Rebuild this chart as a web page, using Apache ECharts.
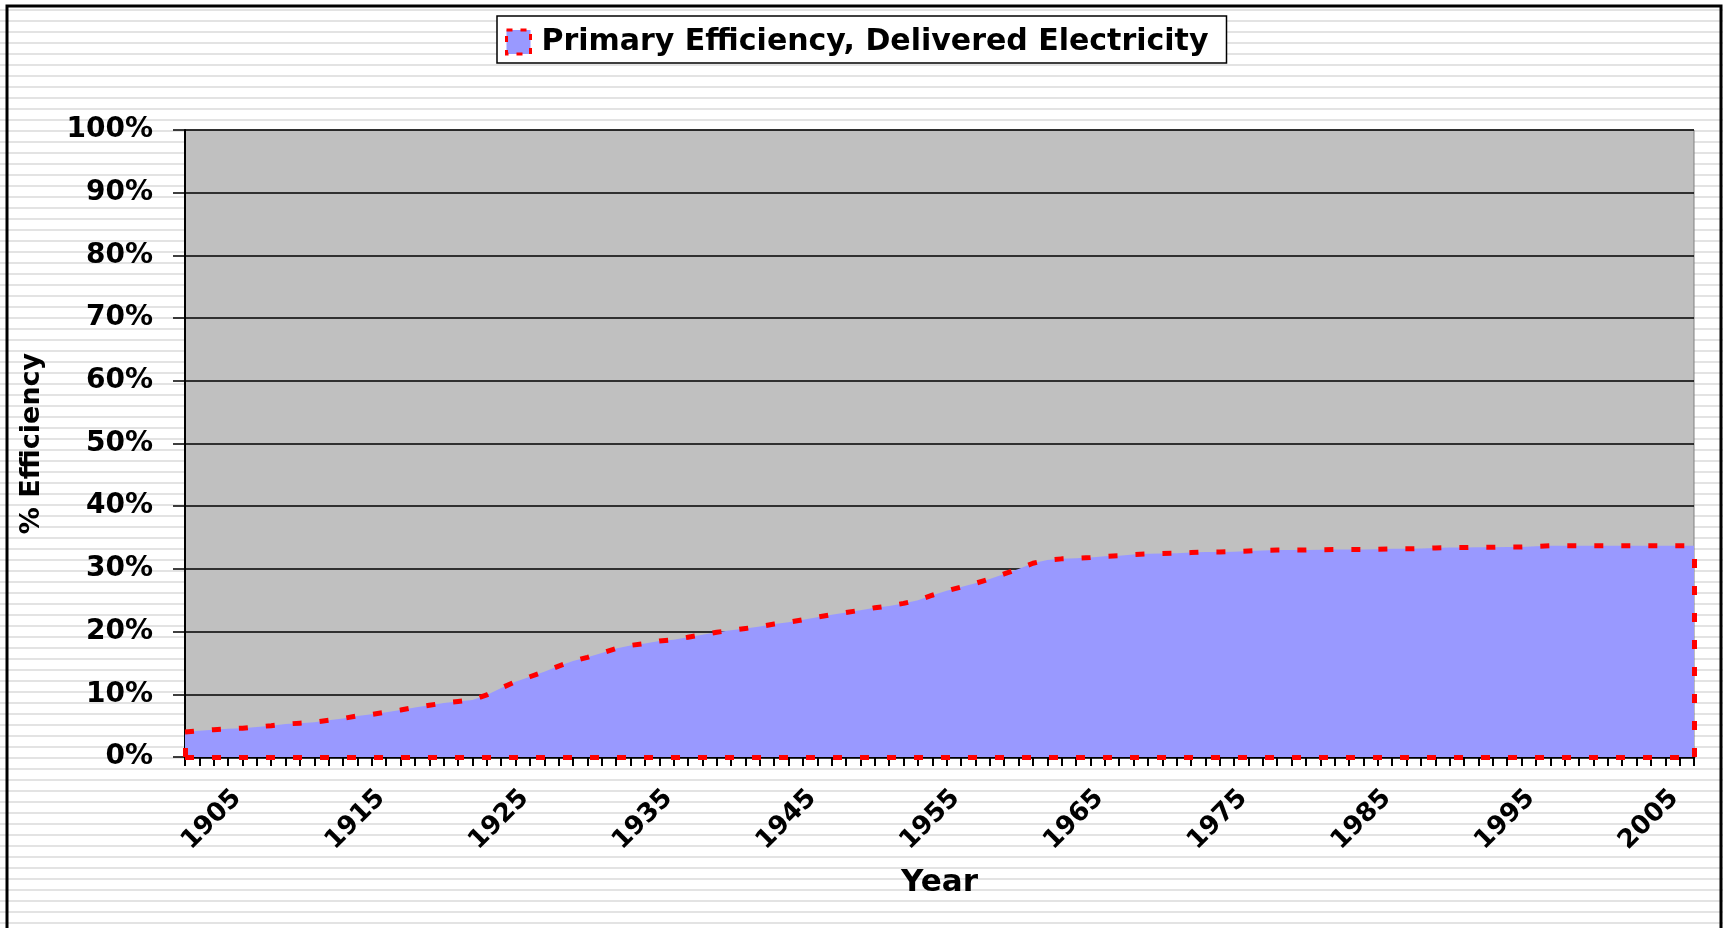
<!DOCTYPE html>
<html>
<head>
<meta charset="utf-8">
<title>Primary Efficiency, Delivered Electricity</title>
<script src="https://cdn.jsdelivr.net/npm/echarts/dist/echarts.min.js"></script>
<style>
    html, body {
        margin: 0;
        padding: 0;
        width: 1723px;
        height: 928px;
        overflow: hidden;
        background: #fff;
    }
    #chart {
        width: 1723px;
        height: 928px;
        /* excel style striped chart area */
        background: repeating-linear-gradient(to bottom,
            #fff 0, #fff 8px, #e3e3e3 8px, #e3e3e3 10px, #fff 10px, #fff 11px);
        background-position: 0 1px;
    }
</style>
</head>
<body>
<div id="chart"></div>
<script>
// x axis categories (one per year)
var years = [
    "1902", "1903", "1904", "1905", "1906", "1907", "1908", "1909", "1910", "1911",
    "1912", "1913", "1914", "1915", "1916", "1917", "1918", "1919", "1920", "1921",
    "1922", "1923", "1924", "1925", "1926", "1927", "1928", "1929", "1930", "1931",
    "1932", "1933", "1934", "1935", "1936", "1937", "1938", "1939", "1940", "1941",
    "1942", "1943", "1944", "1945", "1946", "1947", "1948", "1949", "1950", "1951",
    "1952", "1953", "1954", "1955", "1956", "1957", "1958", "1959", "1960", "1961",
    "1962", "1963", "1964", "1965", "1966", "1967", "1968", "1969", "1970", "1971",
    "1972", "1973", "1974", "1975", "1976", "1977", "1978", "1979", "1980", "1981",
    "1982", "1983", "1984", "1985", "1986", "1987", "1988", "1989", "1990", "1991",
    "1992", "1993", "1994", "1995", "1996", "1997", "1998", "1999", "2000", "2001",
    "2002", "2003", "2004", "2005", "2006", "2007"
];

// % efficiency per year
var efficiency = [
    4.0, 4.2, 4.35, 4.5, 4.6, 4.8, 5.0, 5.25, 5.4, 5.55,
    5.85, 6.15, 6.55, 6.8, 7.15, 7.5, 7.9, 8.25, 8.6, 8.85,
    9.1, 9.9, 11.0, 12.0, 12.8, 13.6, 14.5, 15.3, 15.9, 16.6,
    17.3, 17.8, 18.1, 18.5, 18.7, 19.1, 19.5, 19.9, 20.2, 20.5,
    20.8, 21.2, 21.5, 21.9, 22.3, 22.7, 23.05, 23.4, 23.8, 24.1,
    24.5, 25.0, 25.8, 26.5, 27.1, 27.7, 28.4, 29.2, 30.0, 30.9,
    31.4, 31.6, 31.7, 31.8, 32.0, 32.1, 32.3, 32.4, 32.45, 32.5,
    32.6, 32.7, 32.7, 32.75, 32.85, 32.95, 33.0, 33.0, 33.0, 33.05,
    33.1, 33.1, 33.1, 33.15, 33.2, 33.2, 33.25, 33.35, 33.4, 33.4,
    33.45, 33.45, 33.5, 33.5, 33.6, 33.7, 33.7, 33.7, 33.7, 33.7,
    33.7, 33.7, 33.7, 33.7, 33.7, 33.7
];

// years that get a label on the x axis
var labelYears = ["1905", "1915", "1925", "1935", "1945", "1955", "1965", "1975", "1985", "1995", "2005"];

var seriesName = "Primary Efficiency, Delivered Electricity";
var font = "DejaVu Sans";

var first = years[0];
var last = years[years.length - 1];

var dashed = {
    color: "#FF0000",
    width: 5,
    type: [9, 18],
    cap: "butt"
};

var chart = echarts.init(document.getElementById("chart"), null, { renderer: "canvas" });

chart.setOption({
    backgroundColor: "transparent",
    animation: false,
    graphic: [
        {
            type: "rect",
            shape: { x: 7, y: 6, width: 1714, height: 1000 },
            style: { fill: "none", stroke: "#000", lineWidth: 3 },
            silent: true,
            z: 0
        }
    ],
    legend: {
        data: [seriesName],
        left: 497,
        top: 16,
        icon: "rect",
        itemWidth: 24,
        itemHeight: 24,
        backgroundColor: "#fff",
        borderColor: "#000",
        borderWidth: 1.5,
        padding: [11, 18, 6, 8],
        itemStyle: {
            color: "#9999FF",
            borderColor: "#FF0000",
            borderWidth: 3,
            borderType: [6, 8]
        },
        textStyle: {
            fontFamily: font,
            fontWeight: "bold",
            fontSize: 30,
            color: "#000",
            padding: [0, 0, 0, 6]
        }
    },
    grid: {
        left: 185,
        right: 29,
        top: 130,
        bottom: 171,
        containLabel: false,
        outerBoundsMode: "none",
        show: true,
        backgroundColor: "#C0C0C0",
        borderColor: "#808080",
        borderWidth: 1
    },
    xAxis: {
        type: "category",
        data: years,
        boundaryGap: false,
        name: "Year",
        nameLocation: "middle",
        nameGap: 110,
        nameTextStyle: {
            fontFamily: font,
            fontWeight: "bold",
            fontSize: 31,
            color: "#000"
        },
        axisLine: {
            onZero: false,
            lineStyle: { color: "#000", width: 2.5 }
        },
        axisTick: {
            show: true,
            interval: 0,
            length: 9,
            lineStyle: { color: "#000", width: 2 }
        },
        axisLabel: {
            interval: function (index, value) {
                return labelYears.indexOf(value) >= 0;
            },
            rotate: 45,
            margin: 28,
            verticalAlign: "top",
            fontFamily: font,
            fontWeight: "bold",
            fontSize: 26,
            color: "#000"
        },
        splitLine: { show: false }
    },
    yAxis: {
        type: "value",
        min: 0,
        max: 100,
        interval: 10,
        name: "% Efficiency",
        nameLocation: "middle",
        nameRotate: 90,
        nameGap: 140,
        nameTextStyle: {
            fontFamily: font,
            fontWeight: "bold",
            fontSize: 27,
            color: "#000"
        },
        axisLine: {
            show: true,
            lineStyle: { color: "#000", width: 2 }
        },
        axisTick: {
            show: true,
            length: 12,
            lineStyle: { color: "#000", width: 1.5 }
        },
        axisLabel: {
            formatter: "{value}%",
            margin: 32,
            fontFamily: font,
            fontWeight: "bold",
            fontSize: 28,
            color: "#000"
        },
        splitLine: {
            show: true,
            lineStyle: { color: "#000", width: 1.5 }
        }
    },
    series: [
        {
            name: seriesName,
            type: "line",
            data: efficiency,
            symbol: "none",
            smooth: false,
            clip: false,
            lineStyle: dashed,
            itemStyle: { color: "#9999FF" },
            areaStyle: { color: "#9999FF", opacity: 1 },
            z: 3,
            markLine: {
                silent: true,
                symbol: ["none", "none"],
                label: { show: false },
                lineStyle: dashed,
                emphasis: { disabled: true },
                animation: false,
                data: [
                    [{ coord: [first, 0] }, { coord: [last, 0] }],
                    [{ coord: [last, 0] }, { coord: [last, efficiency[efficiency.length - 1]] }],
                    [{ coord: [first, 0] }, { coord: [first, efficiency[0]] }]
                ]
            }
        }
    ]
});
</script>
</body>
</html>
